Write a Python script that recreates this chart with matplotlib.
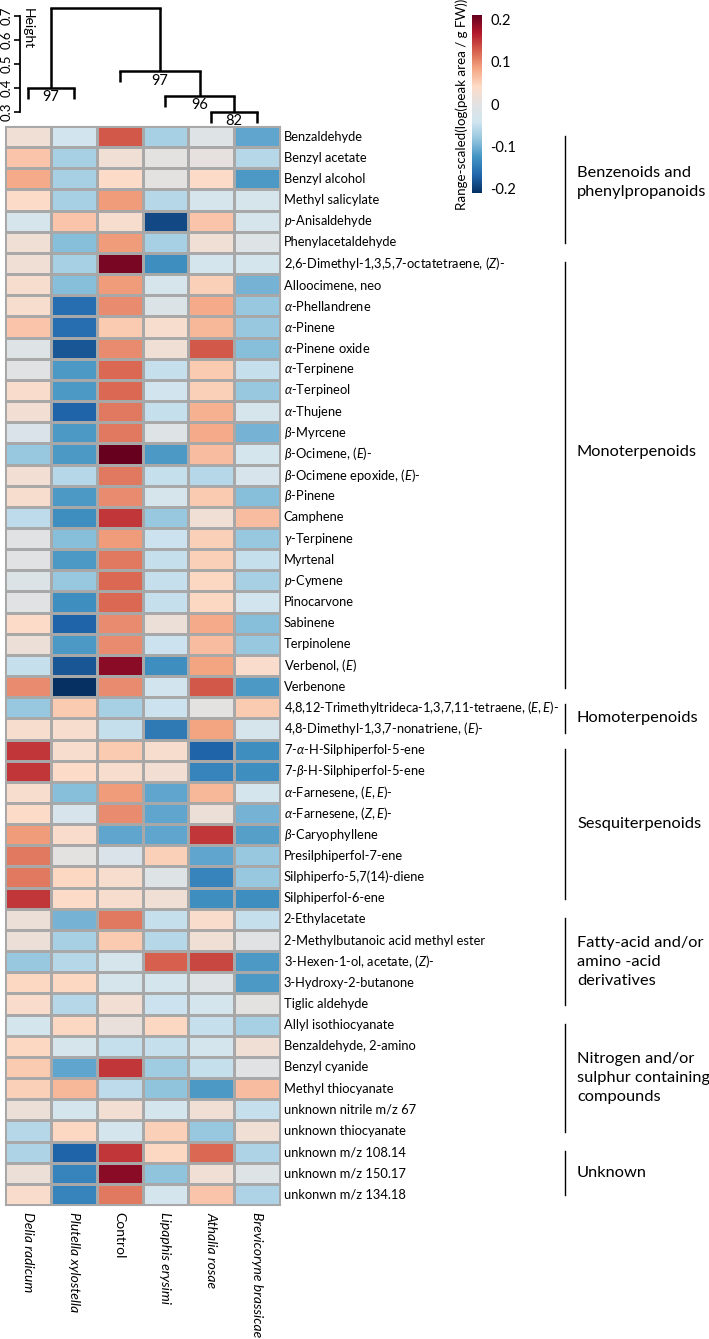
import numpy as np
import matplotlib
matplotlib.use('Agg')
import matplotlib.pyplot as plt
from matplotlib.colors import LinearSegmentedColormap

plt.rcParams['font.family'] = 'Lato'
plt.rcParams['mathtext.fontset'] = 'custom'
plt.rcParams['mathtext.rm'] = 'Lato'
plt.rcParams['mathtext.it'] = 'Lato:italic'

# Samples (columns, dendrogram order)
samples = ['Delia radicum', 'Plutella xylostella', 'Control',
           'Lipaphis erysimi', 'Athalia rosae', 'Brevicoryne brassicae']
sample_italic = [True, True, False, True, True, True]

# Compounds (rows)
compounds = [
    'Benzaldehyde', 'Benzyl acetate', 'Benzyl alcohol', 'Methyl salicylate',
    r'$\mathit{p}$-Anisaldehyde', 'Phenylacetaldehyde',
    r'2,6-Dimethyl-1,3,5,7-octatetraene, ($\mathit{Z}$)-', 'Alloocimene, neo',
    r'$\alpha$-Phellandrene', r'$\alpha$-Pinene', r'$\alpha$-Pinene oxide',
    r'$\alpha$-Terpinene', r'$\alpha$-Terpineol', r'$\alpha$-Thujene',
    r'$\beta$-Myrcene', r'$\beta$-Ocimene, ($\mathit{E}$)-',
    r'$\beta$-Ocimene epoxide, ($\mathit{E}$)-', r'$\beta$-Pinene', 'Camphene',
    r'$\gamma$-Terpinene', 'Myrtenal', r'$\mathit{p}$-Cymene', 'Pinocarvone',
    'Sabinene', 'Terpinolene', r'Verbenol, ($\mathit{E}$)', 'Verbenone',
    r'4,8,12-Trimethyltrideca-1,3,7,11-tetraene, ($\mathit{E,E}$)-',
    r'4,8-Dimethyl-1,3,7-nonatriene, ($\mathit{E}$)-',
    r'7-$\alpha$-H-Silphiperfol-5-ene', r'7-$\beta$-H-Silphiperfol-5-ene',
    r'$\alpha$-Farnesene, ($\mathit{E,E}$)-', r'$\alpha$-Farnesene, ($\mathit{Z,E}$)-',
    r'$\beta$-Caryophyllene', 'Presilphiperfol-7-ene', 'Silphiperfo-5,7(14)-diene',
    'Silphiperfol-6-ene',
    '2-Ethylacetate', '2-Methylbutanoic acid methyl ester',
    r'3-Hexen-1-ol, acetate, ($\mathit{Z}$)-', '3-Hydroxy-2-butanone', 'Tiglic aldehyde',
    'Allyl isothiocyanate', 'Benzaldehyde, 2-amino', 'Benzyl cyanide',
    'Methyl thiocyanate', 'unknown nitrile m/z 67', 'unknown thiocyanate',
    'unknown m/z 108.14', 'unknown m/z 150.17', 'unkonwn m/z 134.18',
]

# Range-scaled values, one row per compound, columns in sample order
values = [
    [0.02, -0.04, 0.13, -0.07, -0.01, -0.11],
    [0.06, -0.07, 0.02, 0.00, 0.005, -0.06],
    [0.08, -0.07, 0.04, 0.00, 0.04, -0.12],
    [0.04, -0.07, 0.09, -0.06, -0.03, -0.03],
    [-0.03, 0.06, 0.03, -0.19, 0.06, -0.03],
    [0.02, -0.09, 0.09, -0.07, 0.02, -0.01],
    [0.02, -0.07, 0.20, -0.13, -0.035, -0.035],
    [0.03, -0.09, 0.09, -0.03, 0.05, -0.10],
    [0.03, -0.16, 0.10, -0.015, 0.08, -0.08],
    [0.06, -0.16, 0.055, 0.03, 0.07, -0.08],
    [-0.01, -0.18, 0.10, 0.02, 0.13, -0.09],
    [-0.005, -0.12, 0.12, -0.05, 0.055, -0.05],
    [0.035, -0.12, 0.12, -0.04, 0.05, -0.08],
    [0.025, -0.17, 0.11, -0.05, 0.075, -0.03],
    [-0.02, -0.12, 0.11, -0.01, 0.08, -0.10],
    [-0.08, -0.12, 0.22, -0.12, 0.065, -0.035],
    [0.025, -0.06, 0.11, -0.05, -0.06, -0.025],
    [0.03, -0.12, 0.10, -0.03, 0.055, -0.09],
    [-0.055, -0.13, 0.15, -0.08, 0.02, 0.065],
    [-0.005, -0.09, 0.09, -0.045, 0.05, -0.08],
    [-0.005, -0.12, 0.11, -0.05, 0.05, -0.05],
    [-0.015, -0.08, 0.12, -0.05, 0.045, -0.07],
    [-0.005, -0.13, 0.12, -0.05, 0.045, -0.04],
    [0.04, -0.17, 0.10, 0.015, 0.08, -0.09],
    [0.015, -0.12, 0.10, -0.045, 0.065, -0.08],
    [-0.05, -0.18, 0.19, -0.13, 0.085, 0.035],
    [0.10, -0.22, 0.10, -0.04, 0.13, -0.12],
    [-0.08, 0.055, -0.07, -0.045, 0.00, 0.055],
    [0.03, 0.03, -0.05, -0.15, 0.085, -0.03],
    [0.15, 0.03, 0.055, 0.03, -0.17, -0.13],
    [0.15, 0.04, 0.03, 0.025, -0.14, -0.13],
    [0.03, -0.09, 0.09, -0.11, 0.07, -0.035],
    [0.04, -0.025, 0.10, -0.11, 0.015, -0.10],
    [0.09, 0.035, -0.11, -0.11, 0.15, -0.115],
    [0.11, 0.00, -0.02, 0.05, -0.11, -0.08],
    [0.11, 0.045, 0.03, -0.01, -0.14, -0.08],
    [0.15, 0.04, 0.03, 0.02, -0.13, -0.13],
    [0.015, -0.10, 0.11, -0.05, 0.035, -0.05],
    [0.015, -0.07, 0.055, -0.06, 0.02, -0.005],
    [-0.08, -0.06, -0.03, 0.125, 0.14, -0.12],
    [0.045, 0.045, -0.03, -0.035, -0.01, -0.12],
    [0.035, -0.06, 0.025, -0.045, -0.035, 0.00],
    [-0.035, 0.045, 0.01, 0.045, -0.05, -0.07],
    [0.045, -0.03, -0.05, -0.05, -0.035, 0.02],
    [0.055, -0.11, 0.15, -0.075, -0.05, -0.005],
    [0.05, 0.07, -0.055, -0.085, -0.12, 0.065],
    [0.015, -0.035, 0.025, -0.035, 0.02, -0.05],
    [-0.06, 0.045, -0.035, 0.05, -0.08, 0.02],
    [-0.065, -0.17, 0.15, 0.045, 0.12, -0.065],
    [0.015, -0.14, 0.19, -0.085, 0.02, -0.01],
    [0.035, -0.14, 0.11, -0.035, 0.06, -0.065],
]

# Compound classes: label, first row, last row
group_names = ['Benzenoids and\nphenylpropanoids', 'Monoterpenoids', 'Homoterpenoids',
               'Sesquiterpenoids', 'Fatty-acid and/or\namino -acid\nderivatives',
               'Nitrogen and/or\nsulphur containing\ncompounds', 'Unknown']
group_start = [0, 6, 27, 29, 37, 42, 48]
group_end = [5, 26, 28, 36, 41, 47, 50]

# Column dendrogram: merges (child a, child b), height, AU p-value
# leaves 0..5, internal nodes numbered 6..
merge_pairs = [(4, 5), (3, 6), (2, 7), (0, 1), (9, 8)]
merge_heights = [0.30, 0.367, 0.47, 0.40, 0.735]
merge_au = ['82', '96', '97', '97', '']

data = np.array(values)
nrow, ncol = data.shape

cmap = LinearSegmentedColormap.from_list('rb', [
    '#053061', '#2166ac', '#4393c3', '#92c5de', '#d1e5f0', '#e2e2e2',
    '#fddbc7', '#f4a582', '#d6604d', '#b2182b', '#67001f'])

W, H = 709, 1339
fig = plt.figure(figsize=(W / 100, H / 100), dpi=100)

def fax(x0, y0, x1, y1):
    # axes from pixel box (top-left origin)
    return fig.add_axes([x0 / W, 1 - y1 / H, (x1 - x0) / W, (y1 - y0) / H])

# heatmap
ax = fax(5, 126, 280, 1205)
mesh = ax.pcolormesh(data, cmap=cmap, vmin=-0.21, vmax=0.21,
                     edgecolors='#a8a8a8', linewidth=0.8)
ax.set_xlim(0, ncol)
ax.set_ylim(nrow, 0)
ax.set_xticks([])
ax.set_yticks([])
for s in ax.spines.values():
    s.set_color('#a8a8a8')
    s.set_linewidth(0.8)

for i, lab in enumerate(compounds):
    ax.text(ncol + 0.08, i + 0.5, lab, fontsize=9.3, va='center', ha='left',
            clip_on=False)

for j, lab in enumerate(samples):
    ax.text(j + 0.5, nrow + 0.35, lab, fontsize=10, rotation=270,
            ha='center', va='top', style='italic' if sample_italic[j] else 'normal')

# class brackets
label_row = {0: 2.65, 1: 15.4}
for k, name in enumerate(group_names):
    a, b = group_start[k], group_end[k]
    inset = 0.3 if b - a < 2 else 0.45
    ax.plot([12.22, 12.22], [a + inset, b + 1 - inset], color='black',
            lw=1.0, clip_on=False)
    ymid = label_row.get(k, (a + b + 1) / 2)
    ax.text(12.48, ymid, name, fontsize=11.8, ha='left', va='center',
            linespacing=1.45, clip_on=False)

# dendrogram
dax = fax(5, 0, 280, 126)
dax.set_xlim(0, ncol)
dax.set_ylim(0.2417, 0.7667)
hang = 0.047
node_x = [j + 0.5 for j in range(ncol)]
node_h = [None] * ncol
for (a, b), h, au in zip(merge_pairs, merge_heights, merge_au):
    for c in (a, b):
        top = node_h[c] if node_h[c] is not None else h - hang
        dax.plot([node_x[c], node_x[c]], [top, h], color='black', lw=1.8,
                 solid_capstyle='butt')
    dax.plot([node_x[a], node_x[b]], [h, h], color='black', lw=1.8,
             solid_capstyle='projecting')
    xm = (node_x[a] + node_x[b]) / 2
    if au:
        dax.text(xm, h - 0.01, au, fontsize=10.5, ha='center', va='top')
    node_x.append(xm)
    node_h.append(h)

for s in ['top', 'right', 'bottom']:
    dax.spines[s].set_visible(False)
dax.spines['left'].set_position(('data', 0.327))
dax.spines['left'].set_bounds(0.3, 0.7)
dax.spines['left'].set_linewidth(1.3)
dax.set_xticks([])
dax.set_yticks([0.3, 0.4, 0.5, 0.6, 0.7])
dax.set_yticklabels(['0.3', '0.4', '0.5', '0.6', '0.7'], rotation=90, va='center')
dax.tick_params(axis='y', labelsize=9.5, length=4, width=1.2, pad=1)
dax.patch.set_alpha(0)
dax.text(0.37, 0.735, 'Height', rotation=270, fontsize=10, ha='left', va='top')

# colorbar
cax = fax(472, 15, 482, 193)
cb = fig.colorbar(mesh, cax=cax, ticks=[-0.2, -0.1, 0, 0.1, 0.2])
cb.ax.set_yticklabels(['-0.2', '-0.1', '0', '0.1', '0.2'])
cb.ax.tick_params(length=0, labelsize=10.5, pad=6)
cb.outline.set_visible(False)
cb.ax.yaxis.set_label_position('left')
cb.set_label('Range-scaled(log(peak area / g FW))', fontsize=9.6, labelpad=3)

fig.savefig('out.png', dpi=100)
